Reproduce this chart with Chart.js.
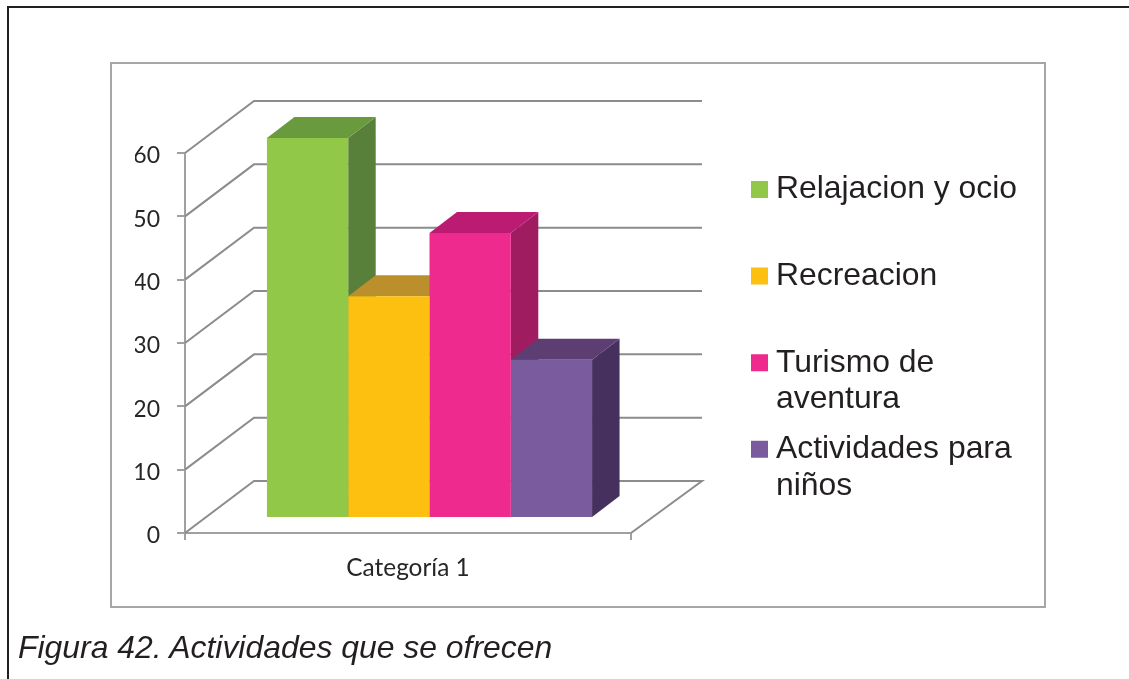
<!DOCTYPE html>
<html lang="es">
<head>
<meta charset="utf-8">
<title>Figura 42</title>
<script src="https://cdn.jsdelivr.net/npm/chart.js@4"></script>
<style>
    html, body { margin: 0; padding: 0; background: #fff; overflow: hidden; }
    #page { position: relative; width: 1129px; height: 679px; }
    #outer { position: absolute; left: 7px; top: 6px; width: 1130px; height: 700px; border: 2px solid #231f20; }
    #frame { position: absolute; left: 110px; top: 62px; width: 932px; height: 542px; border: 2px solid #a6a6a6; }
    #chart { position: absolute; left: 0; top: 0; }
    #caption { position: absolute; left: 18px; top: 629px; font: italic 31.9px "Liberation Sans", sans-serif; color: #231f20; white-space: nowrap; }
</style>
</head>
<body>
<div id="page">
    <div id="outer"></div>
    <div id="frame"></div>
    <canvas id="chart" width="1129" height="679"></canvas>
    <div id="caption">Figura 42. Actividades que se ofrecen</div>
</div>
<script>
const categories = ['Categoría 1'];
const seriesNames = ['Relajacion y ocio', 'Recreacion', ['Turismo de', 'aventura'], ['Actividades para', 'niños']];
const seriesValues = [60, 35, 45, 25];
const frontColors = ['#92c847', '#fdc010', '#ee2a8e', '#7a5c9e'];
const topColors = ['#6a9a3e', '#bb902c', '#bb1c72', '#5c3e72'];
const sideColors = ['#58803a', '#a87f1c', '#a01c60', '#46305e'];
const yTicks = [0, 10, 20, 30, 40, 50, 60];

// fake 3D: sizes of the box depth and of the back wall
const barDepthX = 27.5, barDepthY = 21;
const barShiftX = 21.5, barShiftY = 15;
const wallLeftX = 69, wallRightX = 71, wallY = 52;
const gridColor = '#8c8c8c';

const fake3d = {
    id: 'fake3d',
    afterLayout(chart) {
        // legend sits outside the plot, next to it
        const lg = chart.legend;
        const pad = lg.options.labels.padding;
        lg.left = 759 - pad;
        lg.right = 1129;
        lg.top = 173.5 - pad;
        lg.bottom = 679;
        lg.width = lg.right - lg.left;
        lg.height = lg.bottom - lg.top;
    },
    beforeDatasetsDraw(chart) {
        const { ctx, chartArea, scales } = chart;
        ctx.save();
        // back wall and floor lines
        ctx.strokeStyle = gridColor;
        ctx.lineWidth = 2;
        yTicks.forEach(v => {
            const py = scales.y.getPixelForValue(v);
            ctx.beginPath();
            ctx.moveTo(chartArea.left, py);
            ctx.lineTo(chartArea.left + wallLeftX, py - wallY);
            ctx.lineTo(chartArea.right + wallRightX, py - wallY);
            if (v === 0) ctx.lineTo(chartArea.right, py);
            ctx.stroke();
        });
        // side and top faces go left to right, the library draws the fronts after
        seriesNames.forEach((name, i) => {
            const bar = chart.getDatasetMeta(i).data[0];
            const x0 = bar.x - bar.width / 2 + barShiftX;
            const x1 = bar.x + bar.width / 2 + barShiftX;
            const yTop = bar.y - barShiftY;
            const yBase = bar.base - barShiftY;
            ctx.fillStyle = sideColors[i];
            ctx.beginPath();
            ctx.moveTo(x1, yTop);
            ctx.lineTo(x1 + barDepthX, yTop - barDepthY);
            ctx.lineTo(x1 + barDepthX, yBase - barDepthY);
            ctx.lineTo(x1, yBase);
            ctx.closePath();
            ctx.fill();
            ctx.fillStyle = topColors[i];
            ctx.beginPath();
            ctx.moveTo(x0, yTop);
            ctx.lineTo(x0 + barDepthX, yTop - barDepthY);
            ctx.lineTo(x1 + barDepthX, yTop - barDepthY);
            ctx.lineTo(x1, yTop);
            ctx.closePath();
            ctx.fill();
        });
        ctx.restore();
    },
    beforeDatasetDraw(chart) {
        chart.ctx.save();
        chart.ctx.translate(barShiftX, -barShiftY);
    },
    afterDatasetDraw(chart) {
        chart.ctx.restore();
    }
};

new Chart(document.getElementById('chart'), {
    type: 'bar',
    data: {
        labels: categories,
        datasets: seriesNames.map((name, i) => ({
            // every legend entry takes two lines so the rows stay evenly spaced
            label: Array.isArray(name) ? name : [name, ''],
            data: [seriesValues[i]],
            backgroundColor: frontColors[i],
            borderWidth: 0,
            clip: false,
            categoryPercentage: 0.729,
            barPercentage: 1
        }))
    },
    options: {
        responsive: false,
        animation: false,
        events: [],
        layout: { padding: { left: 135, top: 153, right: 498, bottom: 96 } },
        scales: {
            x: {
                afterFit(scale) { scale.height = 50; },
                grid: { drawOnChartArea: false, color: '#a0a0a0', lineWidth: 2, tickLength: 7 },
                border: { color: '#a0a0a0', width: 2 },
                ticks: { color: '#262626', padding: 14, font: { family: 'Lato', size: 24.4 } }
            },
            y: {
                min: 0,
                max: 60,
                afterFit(scale) { scale.width = 50; },
                afterBuildTicks(scale) { scale.ticks = yTicks.map(value => ({ value })); },
                grid: { drawOnChartArea: false, color: '#a0a0a0', lineWidth: 2, tickLength: 8 },
                border: { color: '#a0a0a0', width: 2 },
                ticks: { color: '#262626', padding: 17, labelOffset: 3, font: { family: 'Lato', size: 23 } }
            }
        },
        plugins: {
            tooltip: { enabled: false },
            legend: {
                position: 'chartArea',
                align: 'start',
                labels: {
                    usePointStyle: true,
                    pointStyle: 'rect',
                    boxWidth: 1,
                    boxHeight: 17,
                    padding: 13.9,
                    color: '#231f20',
                    font: { family: 'Liberation Sans', size: 31.9, lineHeight: 1.14 }
                }
            }
        }
    },
    plugins: [fake3d]
});
</script>
</body>
</html>
